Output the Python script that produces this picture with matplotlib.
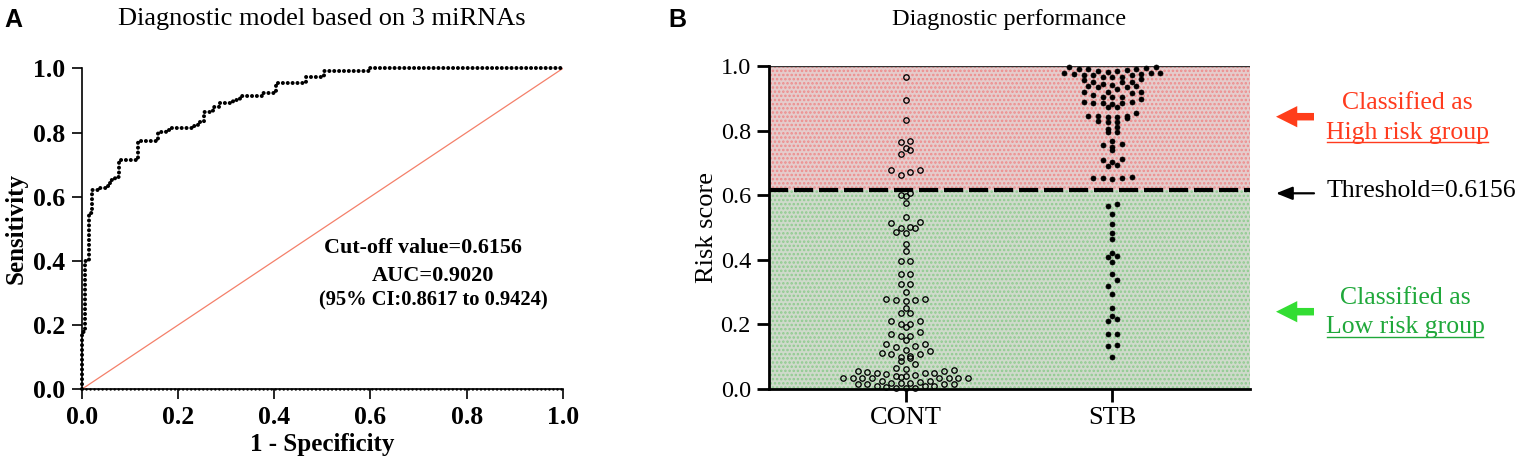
import numpy as np
import matplotlib
matplotlib.use("Agg")
import matplotlib.pyplot as plt
from matplotlib.patches import FancyArrowPatch
from matplotlib.lines import Line2D
from matplotlib.transforms import IdentityTransform

SERIF = ["Liberation Serif", "DejaVu Serif"]
SANS = ["Liberation Sans", "DejaVu Sans"]

# ---------------- data ----------------
# ROC step corners (1 - specificity, sensitivity)
roc_fpr = [0.0, 0.0, 0.007, 0.016, 0.021, 0.038, 0.052, 0.059, 0.069, 0.078, 0.117,
           0.159, 0.176, 0.183, 0.231, 0.241, 0.255, 0.272, 0.286, 0.314, 0.328,
           0.376, 0.403, 0.466, 0.503, 0.597, 1.0]
roc_tpr = [0.0, 0.18, 0.40, 0.548, 0.621, 0.626, 0.633, 0.652, 0.662, 0.714, 0.775,
           0.803, 0.808, 0.813, 0.820, 0.834, 0.865, 0.880, 0.891, 0.901, 0.914,
           0.922, 0.953, 0.974, 0.993, 1.0, 1.0]
cutoff = 0.6156
auc_value = 0.9020
ci_low, ci_high = 0.8617, 0.9424

groups = ["CONT", "STB"]
cont_scores = [0.965, 0.895, 0.832, 0.769, 0.764, 0.747, 0.739, 0.728, 0.679, 0.679,
               0.671, 0.664, 0.608, 0.601, 0.596, 0.575, 0.534, 0.518, 0.513, 0.502,
               0.500, 0.497, 0.485, 0.482, 0.449, 0.428, 0.396, 0.396, 0.355, 0.355,
               0.324, 0.324, 0.300, 0.279, 0.279, 0.277, 0.274, 0.271, 0.250, 0.236,
               0.236, 0.212, 0.212, 0.201, 0.201, 0.191, 0.175, 0.170, 0.164, 0.164,
               0.152, 0.139, 0.139, 0.132, 0.129, 0.121, 0.118, 0.110, 0.108, 0.108,
               0.103, 0.100, 0.096, 0.087, 0.077, 0.066, 0.061, 0.058, 0.056, 0.056,
               0.054, 0.048, 0.048, 0.048, 0.045, 0.043, 0.040, 0.040, 0.037, 0.035,
               0.035, 0.035, 0.033, 0.033, 0.033, 0.033, 0.033, 0.025, 0.025, 0.023,
               0.020, 0.020, 0.020, 0.017, 0.017, 0.015, 0.015, 0.009, 0.009, 0.009,
               0.006, 0.002, 0.002, 0.002]
stb_scores = [0.996, 0.996, 0.993, 0.991, 0.991, 0.991, 0.988, 0.985, 0.983, 0.982,
              0.978, 0.978, 0.978, 0.975, 0.975, 0.972, 0.972, 0.972, 0.965, 0.965,
              0.965, 0.959, 0.957, 0.951, 0.949, 0.949, 0.944, 0.941, 0.939, 0.939,
              0.934, 0.934, 0.930, 0.921, 0.918, 0.918, 0.915, 0.910, 0.905, 0.903,
              0.903, 0.899, 0.887, 0.887, 0.884, 0.884, 0.884, 0.882, 0.873, 0.873,
              0.856, 0.845, 0.845, 0.845, 0.843, 0.843, 0.839, 0.830, 0.826, 0.826,
              0.811, 0.804, 0.795, 0.795, 0.769, 0.757, 0.754, 0.750, 0.739, 0.713,
              0.710, 0.702, 0.695, 0.689, 0.656, 0.653, 0.653, 0.653, 0.650,
              0.573, 0.567, 0.542, 0.512, 0.484, 0.465, 0.421, 0.413, 0.408, 0.393,
              0.357, 0.339, 0.320, 0.293, 0.250, 0.227, 0.217, 0.210, 0.170, 0.170,
              0.137, 0.132, 0.100]


def swarm_offsets(values, bin_h=0.02, max_cols=14):
    """Prism-like scatter layout: points sharing a y-bin are spread side by side."""
    vals = np.asarray(values, dtype=float)
    bins = np.floor(vals / bin_h + 1e-9).astype(int)
    off = np.zeros(len(vals))
    for b in np.unique(bins):
        idx = np.where(bins == b)[0]
        idx = idx[np.argsort(vals[idx], kind="stable")]
        n = len(idx)
        nc = min(n, max_cols)
        centre = (nc - 1) / 2.0
        order = sorted(range(nc), key=lambda c: (abs(c - centre), c))
        for k, i in enumerate(idx):
            off[i] = order[k % nc] - centre
    return off


W, H = 1520, 472
fig = plt.figure(figsize=(W / 100, H / 100), dpi=100)


def fx(px):
    return px / W


def fy(py):
    return 1 - py / H


# ---------------- Panel A ----------------
axA = fig.add_axes([fx(81.7), fy(389.3), (563 - 81.7) / W, 321 / H])
axA.plot([0, 1], [0, 1], color="#F4806A", lw=0.9, zorder=2)
axA.plot([0, 1], [0, 0], color="black", lw=1.8, ls=(0, (0.01, 1.6)),
         dash_capstyle="round", clip_on=False, zorder=3)
axA.plot(roc_fpr, roc_tpr, drawstyle="steps-post", color="black", lw=2.9,
         ls=(0, (0.01, 1.2)), dash_capstyle="round", clip_on=False, zorder=4)
axA.set_xlim(0, 1)
axA.set_ylim(0, 1)
for s in ("top", "right"):
    axA.spines[s].set_visible(False)
for s in ("left", "bottom"):
    axA.spines[s].set_linewidth(1.2)
ticks = np.round(np.arange(0, 1.01, 0.2), 1)
axA.set_xticks(ticks)
axA.set_yticks(ticks)
axA.set_xticklabels([f"{t:.1f}" for t in ticks], fontfamily=SERIF, fontweight="bold", fontsize=18.5)
axA.set_yticklabels([f"{t:.1f}" for t in ticks], fontfamily=SERIF, fontweight="bold", fontsize=18.5)
axA.tick_params(direction="out", length=7, width=1.2, pad=5)
axA.set_xlabel("1 - Specificity", fontfamily=SERIF, fontweight="bold", fontsize=18, labelpad=3)
axA.set_ylabel("Sensitivity", fontfamily=SERIF, fontweight="bold", fontsize=18, labelpad=4)
fig.text(fx(322), fy(19), "Diagnostic model based on 3 miRNAs", fontfamily=SERIF,
         fontsize=19, ha="center", va="center")
axA.text(0.709, 0.440, f"Cut-off value={cutoff:.4f}", fontfamily=SERIF, fontweight="bold",
         fontsize=15.8, ha="center", va="center")
axA.text(0.730, 0.353, f"AUC={auc_value:.4f}", fontfamily=SERIF, fontweight="bold",
         fontsize=16, ha="center", va="center")
axA.text(0.730, 0.278, f"(95% CI:{ci_low:.4f} to {ci_high:.4f})", fontfamily=SERIF,
         fontweight="bold", fontsize=14.8, ha="center", va="center")
fig.text(fx(4), fy(8), "A", fontfamily=SANS, fontweight="bold", fontsize=18, ha="left", va="top")

# ---------------- Panel B ----------------
axB = fig.add_axes([fx(769), fy(389), 481 / W, 323 / H])
axB.set_xlim(-0.66, 1.665)
axB.set_ylim(0, 1)
plt.rcParams["hatch.linewidth"] = 1.2
axB.axhspan(cutoff, 1, facecolor="#E5CCCC", edgecolor="#EE8C8C", hatch="....", lw=0, zorder=0)
axB.axhspan(0, cutoff, facecolor="#CFDACB", edgecolor="#8FCB8F", hatch="....", lw=0, zorder=0)
axB.axhline(1.0, color="#333333", lw=1.0, zorder=1)
axB.axhline(cutoff, color="black", lw=3.0, ls=(0, (4.6, 1.4)), zorder=5)

slot = 0.0464
cont_off = swarm_offsets(cont_scores)
stb_off = swarm_offsets(stb_scores)
axB.plot(0 + cont_off * slot, cont_scores, ls="none", marker="o", ms=3.9, mfc="none",
         mec="black", mew=0.95, clip_on=False, zorder=4)
axB.plot(1 + stb_off * slot, stb_scores, ls="none", marker="o", ms=3.6, mfc="black",
         mec="black", mew=0.5, clip_on=False, zorder=4)

for s in ("top", "right"):
    axB.spines[s].set_visible(False)
for s in ("left", "bottom"):
    axB.spines[s].set_linewidth(2.0)
axB.set_xticks([0, 1])
axB.set_xticklabels(groups, fontfamily=SERIF, fontsize=19)
axB.set_yticks(ticks)
axB.set_yticklabels([f"{t:.1f}" for t in ticks], fontfamily=SERIF, fontsize=17.5)
axB.tick_params(direction="out", length=9, width=2.0, pad=4)
axB.set_ylabel("Risk score", fontfamily=SERIF, fontsize=19, labelpad=2)
fig.text(fx(1009.5), fy(19), "Diagnostic performance", fontfamily=SERIF, fontsize=17.5,
         ha="center", va="center")
fig.text(fx(668), fy(8), "B", fontfamily=SANS, fontweight="bold", fontsize=18, ha="left", va="top")

# right-hand annotations
red_txt, green_txt = "#FF3B1E", "#1FA83A"
fig.text(fx(1407), fy(102.7), "Classified as", fontfamily=SERIF, fontsize=18.5,
         color=red_txt, ha="center", va="center")
t_high = fig.text(fx(1407), fy(132.5), "High risk group", fontfamily=SERIF, fontsize=18.5,
                  color=red_txt, ha="center", va="center")
fig.text(fx(1327), fy(191), f"Threshold={cutoff:.4f}", fontfamily=SERIF, fontsize=18.5,
         color="black", ha="left", va="center")
fig.text(fx(1405), fy(298.3), "Classified as", fontfamily=SERIF, fontsize=18.5,
         color=green_txt, ha="center", va="center")
t_low = fig.text(fx(1405), fy(327.5), "Low risk group", fontfamily=SERIF, fontsize=18.5,
                 color=green_txt, ha="center", va="center")

for (x0, x1, y, col, style, lw) in [
        (1314, 1276, 116.7, "#FF3D1A", "simple,head_length=0.85,head_width=0.85,tail_width=0.3", 0),
        (1314, 1276, 193.3, "black", "-|>,head_length=0.55,head_width=0.22", 1.6),
        (1314, 1276, 311.7, "#33DD33", "simple,head_length=0.85,head_width=0.85,tail_width=0.3", 0)]:
    arr = FancyArrowPatch((fx(x0), fy(y)), (fx(x1), fy(y)), transform=fig.transFigure,
                          arrowstyle=style, mutation_scale=18, color=col, lw=lw,
                          shrinkA=0, shrinkB=0)
    fig.add_artist(arr)

fig.canvas.draw()
renderer = fig.canvas.get_renderer()
for t, col in [(t_high, red_txt), (t_low, green_txt)]:
    bb = t.get_window_extent(renderer)
    fig.add_artist(Line2D([bb.x0 + 1, bb.x1 - 1], [bb.y0 + 1.5, bb.y0 + 1.5],
                          transform=IdentityTransform(), color=col, lw=1.0))

fig.savefig("out.png", dpi=100)
